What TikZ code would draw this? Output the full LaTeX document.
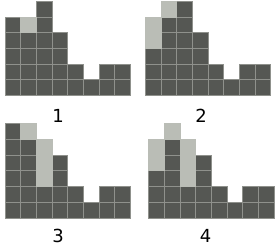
\documentclass[tikz,border=0pt]{standalone}
\usepackage{fontspec}
\setmainfont{DejaVu Sans}
\definecolor{dkc}{HTML}{555753}
\definecolor{ltc}{HTML}{BABDB6}
\definecolor{edgec}{HTML}{8F918C}
\tikzset{
  dk/.style={fill=dkc,draw=edgec,line width=0.9pt},
  lt/.style={fill=ltc,draw=ltc,line width=0.9pt},
  lbl/.style={font=\fontsize{18}{18}\selectfont,text=black,inner sep=0pt}
}
\newcommand\cs{15.7}
\newcommand\mypanel[4]{%
  \foreach \c/\h in {#3}{\foreach \r in {0,...,\h}{%
    \draw[dk] ({#1+\c*\cs},{#2+\r*\cs}) rectangle ++(\cs,\cs);}}
  \foreach \c/\r in {#4}{%
    \draw[lt] ({#1+\c*\cs},{#2+\r*\cs}) rectangle ++(\cs,\cs);}
}
\begin{document}
\begin{tikzpicture}[x=1pt,y=1pt]
\useasboundingbox (0,0) rectangle (276,246);
\mypanel{5}{150.4}{0/4,1/3,2/5,3/3,4/1,5/0,6/1,7/1}{1/4}
\mypanel{145.3}{150.4}{0/2,1/4,2/5,3/3,4/1,5/0,6/1,7/1}{0/3,0/4,1/5}
\mypanel{5}{28}{0/5,1/4,2/1,3/3,4/1,5/0,6/1,7/1}{1/5,2/2,2/3,2/4}
\mypanel{148.7}{28}{0/2,1/4,2/1,3/3,4/1,5/0,6/1,7/1}{0/3,0/4,1/5,2/2,2/3,2/4}
\node[lbl] (l1) at (58,130.5) {1};
\node[lbl] (l2) at (201,130.5) {2};
\node[lbl] (l3) at (58,10.5) {3};
\node[lbl] (l4) at (205.7,10.5) {4};
\end{tikzpicture}
\end{document}
